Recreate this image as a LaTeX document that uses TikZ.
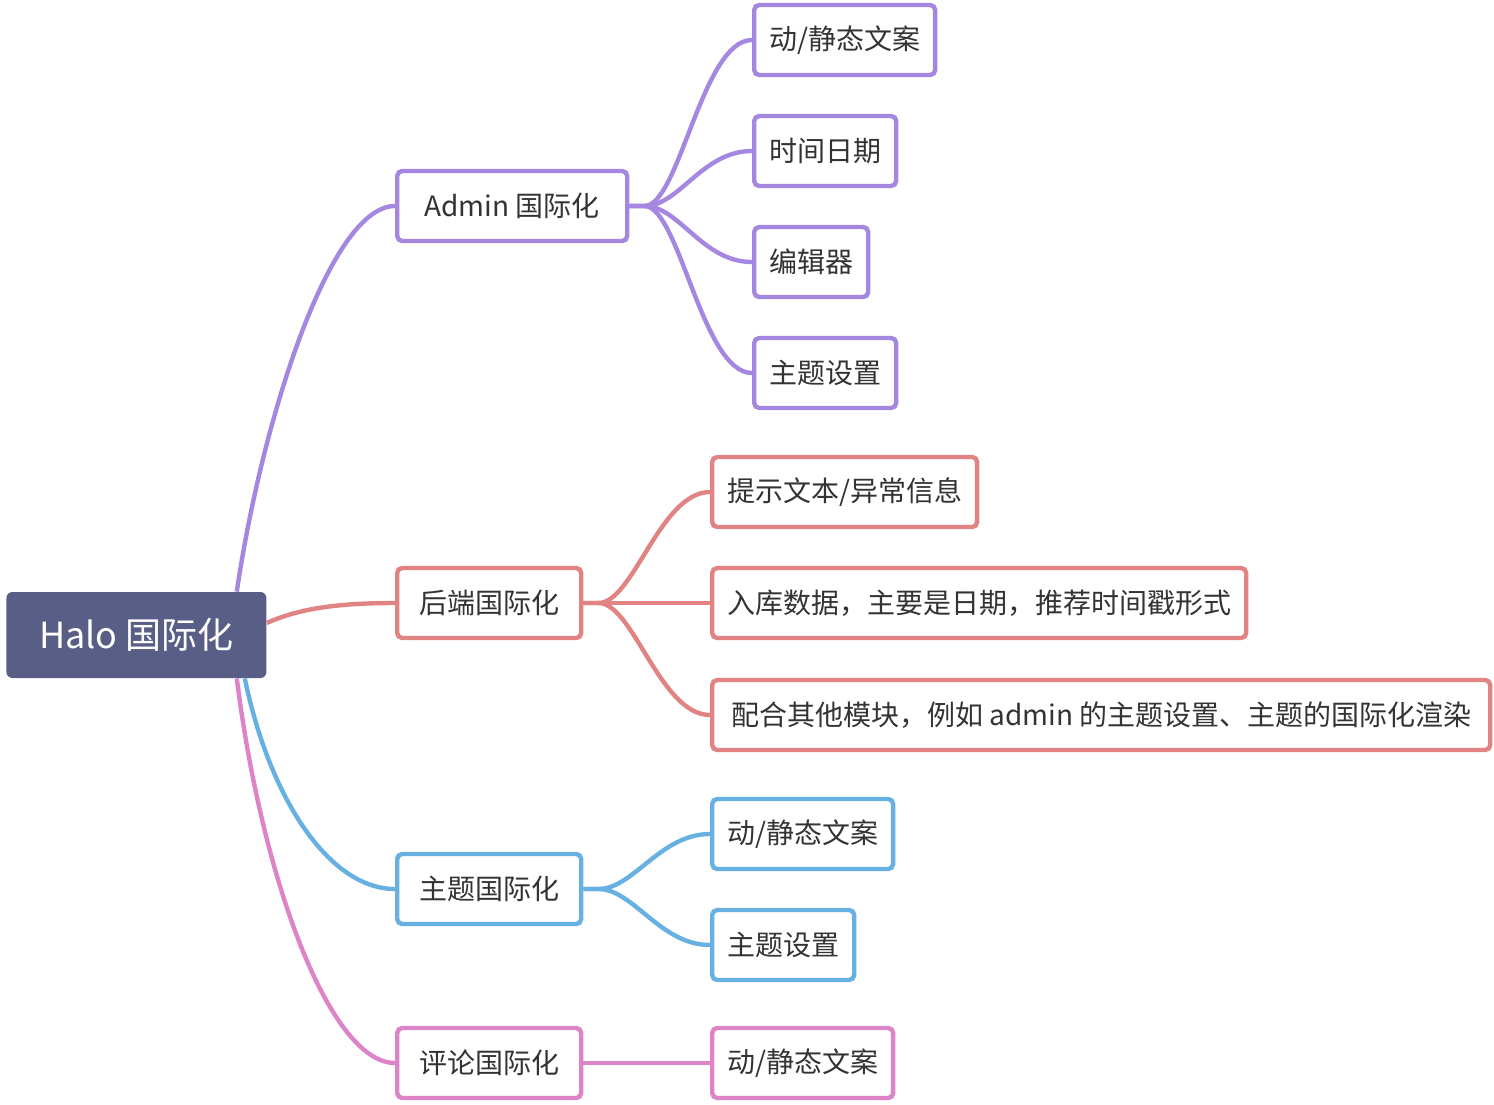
\documentclass[tikz,border=0pt]{standalone}
\usepackage{fontspec}
\setmainfont{Noto Sans CJK SC}
\definecolor{rootfill}{HTML}{585E86}
\definecolor{textgray}{HTML}{333333}
\definecolor{adminC}{HTML}{A587E1}
\definecolor{backC}{HTML}{E28383}
\definecolor{themeC}{HTML}{67B0E2}
\definecolor{commentC}{HTML}{DD84C8}
\tikzset{
  roottopic/.style={fill=rootfill, rounded corners=3pt, text=white, font=\fontsize{18}{20}\selectfont,
    inner xsep=14pt, minimum height=43pt, minimum width=130pt, anchor=west},
  topic/.style={draw, line width=2.2pt, rounded corners=2.5pt, fill=white, text=textgray,
    font=\fontsize{14}{16}\selectfont, minimum height=35pt, anchor=west},
  lvone/.style={topic, inner xsep=11pt},
  lvtwo/.style={topic, inner xsep=7.5pt},
  branch/.style={line width=2.2pt}
}
\begin{document}
\begin{tikzpicture}[x=0.5pt, y=-0.5pt]
            \useasboundingbox (0,0) rectangle (1494,1104);

            \node[roottopic] (root) at (6,635) {Halo 国际化};

            \node[lvone, draw=adminC, minimum width=115pt] (admin) at (395,206) {Admin 国际化};
            \node[lvone, draw=backC] (backend) at (395,603) {后端国际化};
            \node[lvone, draw=themeC] (theme) at (395,889) {主题国际化};
            \node[lvone, draw=commentC] (comment) at (395,1063) {评论国际化};

            \node[lvtwo, draw=adminC] (adminText) at (752,40) {动/静态文案};
            \node[lvtwo, draw=adminC] (adminDate) at (752,151) {时间日期};
            \node[lvtwo, draw=adminC] (adminEditor) at (752,262) {编辑器};
            \node[lvtwo, draw=adminC] (adminTheme) at (752,373) {主题设置};

            \node[lvtwo, draw=backC] (backTip) at (710,492) {提示文本/异常信息};
            \node[lvtwo, draw=backC] (backData) at (710,603) {入库数据，主要是日期，推荐时间戳形式};
            \node[lvtwo, draw=backC, minimum width=389pt] (backOther) at (710,715) {配合其他模块，例如 admin 的主题设置、主题的国际化渲染};

            \node[lvtwo, draw=themeC] (themeText) at (710,834) {动/静态文案};
            \node[lvtwo, draw=themeC] (themeSet) at (710,945) {主题设置};

            \node[lvtwo, draw=commentC] (commentText) at (710,1063) {动/静态文案};

            % root branches
            \draw[branch, adminC] ([xshift=-15pt]root.north east) .. controls (262,420) and (330,206) .. (admin.west);
            \draw[branch, backC] ([yshift=6pt]root.east) .. controls (300,608) and (340,603) .. (backend.west);
            \draw[branch, themeC] ([xshift=-11pt]root.south east) .. controls (270,800) and (330,889) .. (theme.west);
            \draw[branch, commentC] ([xshift=-15pt]root.south east) .. controls (262,880) and (330,1063) .. (comment.west);

            % sub branches
            \foreach \leaf in {adminText, adminDate, adminEditor, adminTheme}
              \draw[branch, adminC] (admin.east) -- ++(15,0) .. controls +(35,0) and +(-50,0) .. (\leaf.west);
            \foreach \leaf in {backTip, backData, backOther}
              \draw[branch, backC] (backend.east) -- ++(15,0) .. controls +(35,0) and +(-50,0) .. (\leaf.west);
            \foreach \leaf in {themeText, themeSet}
              \draw[branch, themeC] (theme.east) -- ++(15,0) .. controls +(35,0) and +(-50,0) .. (\leaf.west);
            \draw[branch, commentC] (comment.east) -- (commentText.west);
        \end{tikzpicture}
\end{document}
